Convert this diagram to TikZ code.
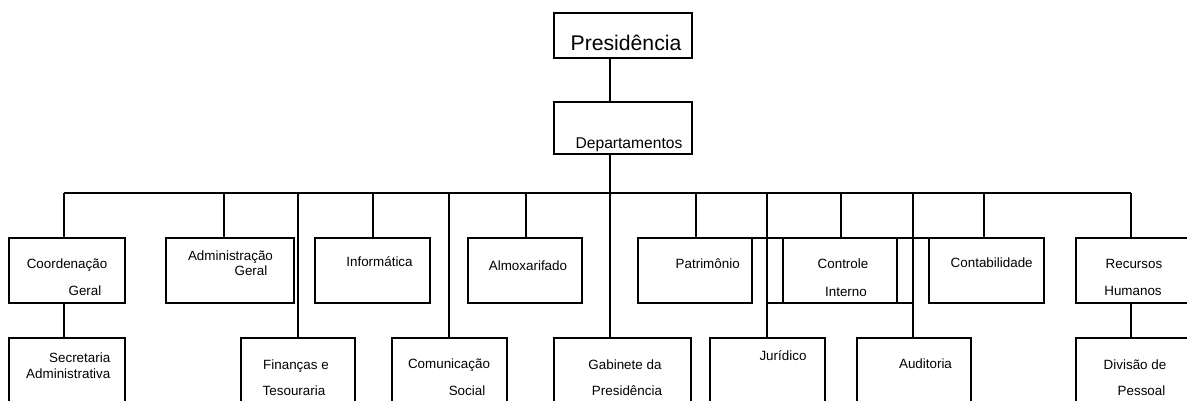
\documentclass[tikz,border=0pt]{standalone}
\usepackage{fontspec}
\setmainfont{Liberation Sans}
\begin{document}
\begin{tikzpicture}[x=1pt,y=-1pt,line width=1.4pt,
  box/.style={draw,line width=1.4pt,rectangle,inner sep=0pt,outer sep=0pt,anchor=north west},
  topbox/.style={box,minimum height=65pt},
  botbox/.style={box,minimum height=80pt},
  lbl/.style={anchor=base,inner sep=0pt,font=\fontsize{13.4}{14}\selectfont},
  conn/.style={line width=1.4pt}]
\useasboundingbox (0,0) rectangle (1187,401);
\clip (0,0) rectangle (1187,401);
% top boxes
\node[box,minimum width=138pt,minimum height=45pt] (pres) at (554,13) {};
\node[box,minimum width=138pt,minimum height=52pt] (dept) at (554,102) {};
\node[topbox,minimum width=116pt] (coord) at (9,238) {};
\node[topbox,minimum width=128pt] (adm) at (166,238) {};
\node[topbox,minimum width=115pt] (inf) at (315,238) {};
\node[topbox,minimum width=114pt] (alm) at (468,238) {};
\node[topbox,minimum width=114pt] (pat) at (638,238) {};
\node[topbox,minimum width=146pt] (ctl) at (767,238) {};
\node[topbox,minimum width=115pt] (cnt) at (929,238) {};
\node[topbox,minimum width=115pt] (rh) at (1076,238) {};
% bottom boxes
\node[botbox,minimum width=116pt] (sec) at (9,338) {};
\node[botbox,minimum width=114pt] (fin) at (241,338) {};
\node[botbox,minimum width=115pt] (com) at (392,338) {};
\node[botbox,minimum width=137pt] (gab) at (554,338) {};
\node[botbox,minimum width=115pt] (jur) at (710,338) {};
\node[botbox,minimum width=114pt] (aud) at (857,338) {};
\node[botbox,minimum width=115pt] (div) at (1076,338) {};
% controle interno inner lines and top extension
\draw[conn] ([xshift=16pt]ctl.north west) -- ([xshift=16pt]ctl.south west);
\draw[conn] ([xshift=-16pt]ctl.north east) -- ([xshift=-16pt]ctl.south east);
\draw[conn] (pat.north east) -- (cnt.north west);
% labels
\node[anchor=base,inner sep=0pt,font=\fontsize{21.2}{22}\selectfont] (tpres) at (626,50.7) {Presidência};
\node[anchor=base,inner sep=0pt,font=\fontsize{15.6}{16}\selectfont] (tdept) at (629,149) {Departamentos};
\node[lbl] (t1) at (67,269) {Coordenação};
\node[lbl] (t2) at (85,295) {Geral};
\node[lbl] (t3) at (230.5,260) {Administração};
\node[lbl] (t4) at (251,275.7) {Geral};
\node[lbl] (t5) at (379.5,266) {Informática};
\node[lbl] (t6) at (528,270.7) {Almoxarifado};
\node[lbl] (t7) at (707.7,268) {Patrimônio};
\node[lbl] (t8) at (843,269) {Controle};
\node[lbl] (t9) at (846,296.7) {Interno};
\node[lbl] (t10) at (991.7,267.7) {Contabilidade};
\node[lbl] (t11) at (1134,269) {Recursos};
\node[lbl] (t12) at (1133,295.7) {Humanos};
\node[lbl] (t13) at (79.7,362.7) {Secretaria};
\node[lbl] (t14) at (68.3,378) {Administrativa};
\node[lbl] (t15) at (296,369) {Finanças e};
\node[lbl] (t16) at (294,395) {Tesouraria};
\node[lbl] (t17) at (449,368) {Comunicação};
\node[lbl] (t18) at (467,395.7) {Social};
\node[lbl] (t19) at (625,369) {Gabinete da};
\node[lbl] (t20) at (627,395.7) {Presidência};
\node[lbl] (t21) at (783,360) {Jurídico};
\node[lbl] (t22) at (925.5,368) {Auditoria};
\node[lbl] (t23) at (1135,369) {Divisão de};
\node[lbl] (t24) at (1141.5,395.7) {Pessoal};
% bus coordinates
\coordinate (d0) at (610,193);
\coordinate (bl) at (64,193);
\coordinate (br) at (1131,193);
\coordinate (b2) at (224,193);
\coordinate (b3) at (298,193);
\coordinate (b4) at (373,193);
\coordinate (b5) at (449,193);
\coordinate (b6) at (526,193);
\coordinate (b8) at (696,193);
\coordinate (b9) at (767,193);
\coordinate (b10) at (841,193);
\coordinate (b11) at (913,193);
\coordinate (b12) at (984,193);
% connectors
\draw[conn] (pres.south -| d0) -- (dept.north -| d0);
\draw[conn] (dept.south -| d0) -- (d0);
\draw[conn] (bl) -- (br);
\draw[conn] (bl) -- (coord.north -| bl);
\draw[conn] (coord.south -| bl) -- (sec.north -| bl);
\draw[conn] (b2) -- (adm.north -| b2);
\draw[conn] (b3) -- (fin.north -| b3);
\draw[conn] (b4) -- (inf.north -| b4);
\draw[conn] (b5) -- (com.north -| b5);
\draw[conn] (b6) -- (alm.north -| b6);
\draw[conn] (d0) -- (gab.north -| d0);
\draw[conn] (b8) -- (pat.north -| b8);
\draw[conn] (b9) -- (jur.north -| b9);
\draw[conn] (b10) -- (ctl.north -| b10);
\draw[conn] (b11) -- (aud.north -| b11);
\draw[conn] (b12) -- (cnt.north -| b12);
\draw[conn] (br) -- (rh.north -| br);
\draw[conn] (rh.south -| br) -- (div.north -| br);
\end{tikzpicture}
\end{document}
